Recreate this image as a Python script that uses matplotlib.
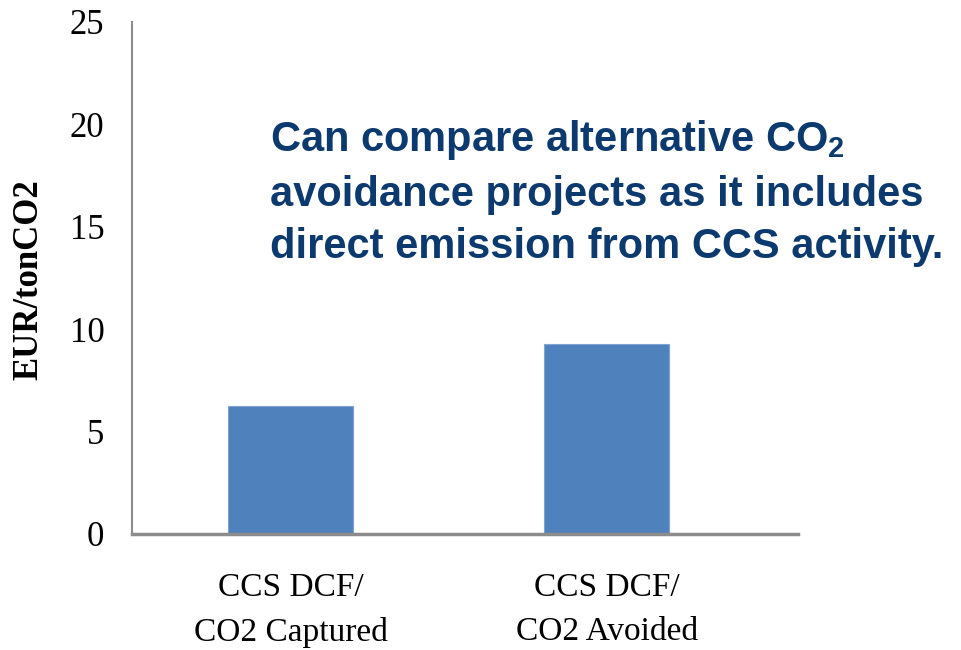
import matplotlib
matplotlib.use("Agg")
import matplotlib.pyplot as plt

categories = ["CCS DCF/\nCO2 Captured", "CCS DCF/\nCO2 Avoided"]
values = [6.25, 9.3]
yticks = [0, 5, 10, 15, 20, 25]
note = "Can compare alternative CO$_2$\navoidance projects as it includes\ndirect emission from CCS activity."

plt.rcParams["mathtext.fontset"] = "custom"
plt.rcParams["mathtext.bf"] = "Liberation Sans:bold"
plt.rcParams["mathtext.rm"] = "Liberation Sans:bold"
plt.rcParams["mathtext.default"] = "bf"

fig = plt.figure(figsize=(9.61, 6.5), dpi=100)
ax = fig.add_axes([0.1374, 0.1785, 0.693, 0.7877])

x = range(len(categories))
ax.bar(x, values, width=0.396, color="#4F81BD", edgecolor="#7FA3D3", linewidth=0.8, zorder=2)

ax.set_xlim(-0.502, 1.606)
ax.set_ylim(0, 25)
ax.set_yticks(yticks)
ax.set_yticklabels([str(t) for t in yticks], family="Liberation Serif", fontsize=25)
ax.set_xticks(list(x))
ax.set_xticklabels(categories, family="Liberation Serif", fontsize=24, linespacing=1.55)
ax.tick_params(axis="both", length=0)
ax.tick_params(axis="y", pad=20)
ax.tick_params(axis="x", pad=28)

for s in ["top", "right"]:
    ax.spines[s].set_visible(False)
ax.spines["left"].set_color("#8C8C8C")
ax.spines["left"].set_linewidth(1.5)
ax.spines["bottom"].set_color("#8C8C8C")
ax.spines["bottom"].set_linewidth(2.5)

ax.set_ylabel("EUR/tonCO2", family="Liberation Serif", fontweight="bold", fontsize=25)
ax.yaxis.set_label_coords(-0.13, 0.496)

fig.text(0.281, 0.818, note, family="Liberation Sans", fontweight="bold", fontsize=30,
         color="#0D3A6E", va="top", ha="left", linespacing=1.4)

fig.savefig("out.png", dpi=100)
